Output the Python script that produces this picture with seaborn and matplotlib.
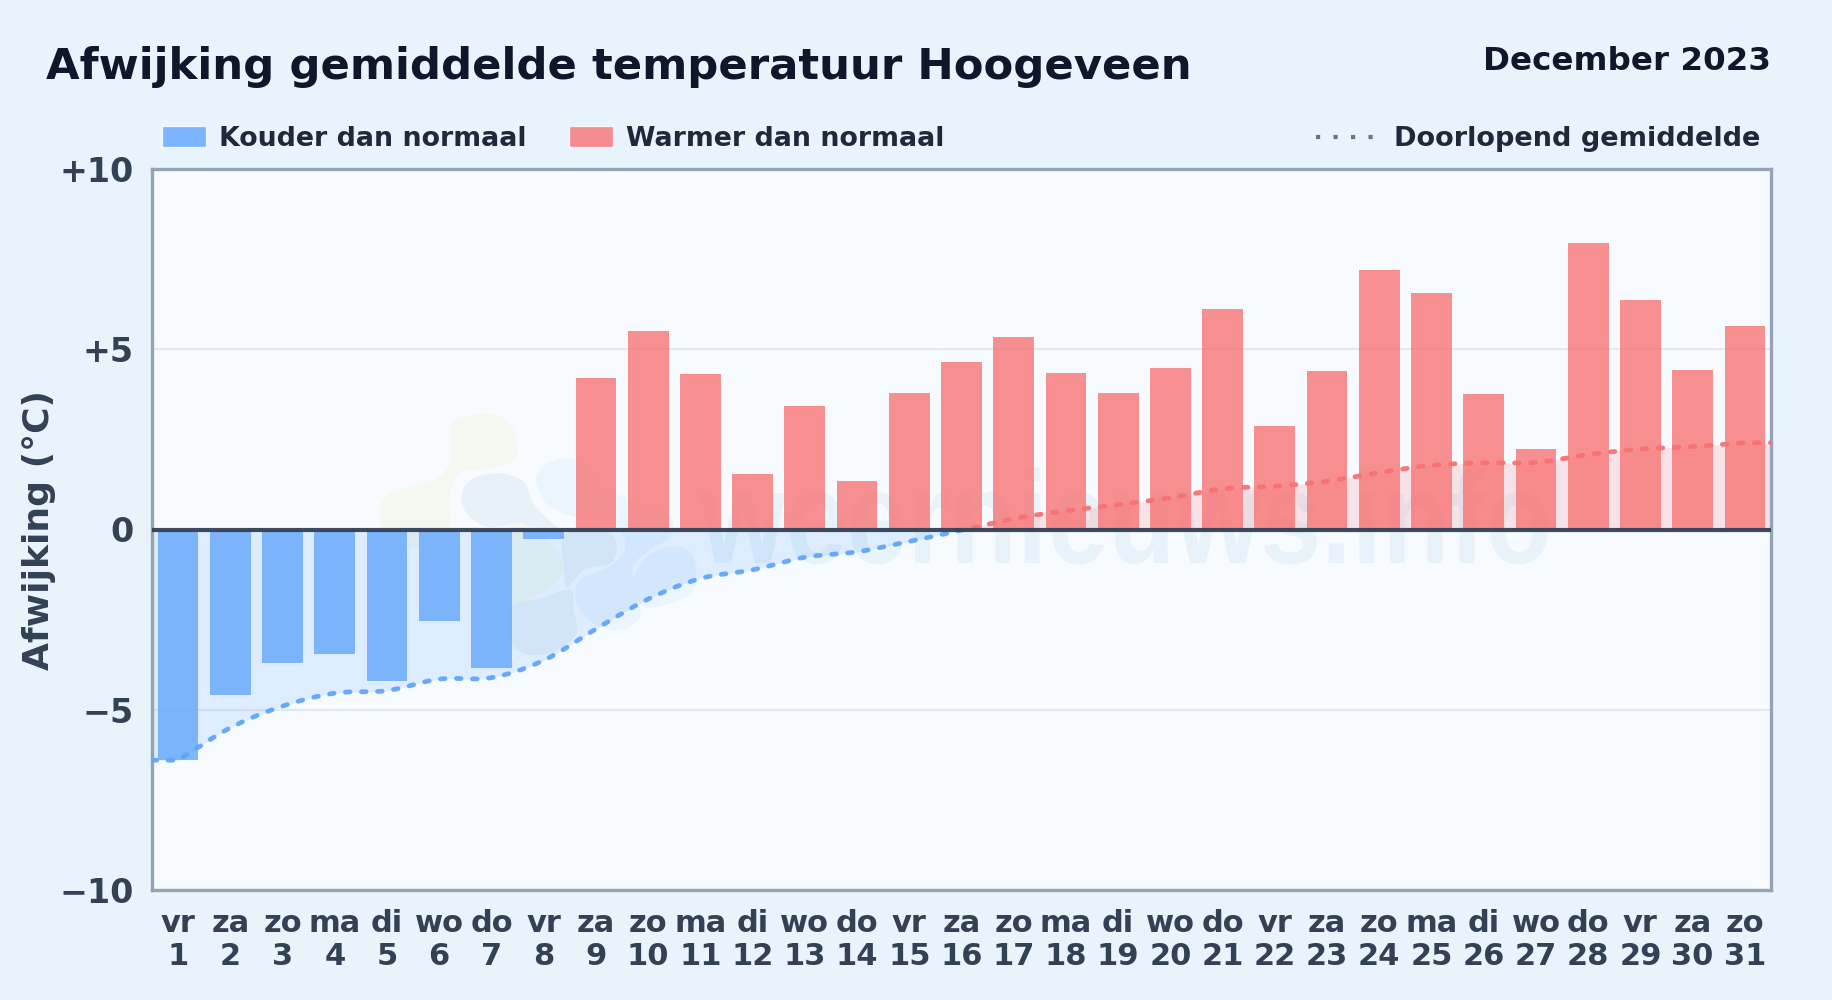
import numpy as np
import pandas as pd
import seaborn as sns
import matplotlib
matplotlib.use("Agg")
import matplotlib.pyplot as plt
from matplotlib.patches import Rectangle, Patch, PathPatch
from matplotlib.path import Path
from matplotlib.lines import Line2D
from matplotlib.transforms import Affine2D
from matplotlib.patheffects import AbstractPathEffect

days = ["vr","za","zo","ma","di","wo","do","vr","za","zo","ma","di","wo","do","vr","za","zo","ma","di","wo","do","vr","za","zo","ma","di","wo","do","vr","za","zo"]
dates = list(range(1, 32))
afwijking = [-6.4,-4.6,-3.7,-3.45,-4.2,-2.55,-3.85,-0.27,4.2,5.5,4.3,1.55,3.42,1.35,3.8,4.65,5.35,4.35,3.8,4.48,6.13,2.87,4.4,7.2,6.55,3.77,2.22,7.95,6.36,4.42,5.65]
gemiddelde = [-6.4,-5.5,-4.9,-4.54,-4.47,-4.15,-4.11,-3.63,-2.76,-1.93,-1.36,-1.12,-0.77,-0.62,-0.33,-0.02,0.3,0.52,0.69,0.88,1.13,1.2,1.34,1.58,1.78,1.85,1.86,2.08,2.23,2.3,2.41]
y_ticks = [-10,-5,0,5,10]
y_labels = ["\u221210","\u22125","0","+5","+10"]

BLUE = "#60a5fa"; RED = "#f87171"; INK = "#334155"; DARK = "#1e293b"
sns.set_theme(style="white")
plt.rcParams['font.family'] = ['DejaVu Sans']

fig = plt.figure(figsize=(18.32, 10), dpi=100, facecolor="#e8f3fc")
ax = fig.add_axes([152/1832, 1-890/1000, (1771-152)/1832, (890-169)/1000], facecolor="#f7fbff")

labels = [f"{d}\n{n}" for d, n in zip(days, dates)]
df = pd.DataFrame({"dag": labels, "waarde": afwijking,
                   "soort": ["koud" if v < 0 else "warm" for v in afwijking]})

class Narrow(AbstractPathEffect):
    # squeezes a text horizontally around a display x position
    def __init__(self, cx, sx):
        super().__init__()
        self.cx, self.sx = cx, sx
    def draw_path(self, renderer, gc, tpath, affine, rgbFace=None):
        squeeze = Affine2D().translate(-self.cx, 0).scale(self.sx, 1).translate(self.cx, 0)
        renderer.draw_path(gc, tpath, affine + squeeze, rgbFace)

# watermark
wm = ax.text(0.602, 0.4535, "weernieuws.info", transform=ax.transAxes, fontsize=95, color="#d5e6f6", alpha=0.42,
             ha="center", va="baseline", zorder=0.5, family="Liberation Sans", fontweight="bold")
wm.set_path_effects([Narrow(ax.transAxes.transform((0.602, 0))[0], 0.83)])

def blob(points, col):
    # closed smooth logo shape; outline given in crop pixels of the logo region
    p = np.array(points, float)
    p = np.column_stack([(360 + p[:, 0]/3)/1832, 1-(390 + p[:, 1]/3)/1000])
    n = len(p)
    verts = [p[0]]; codes = [Path.MOVETO]
    for i in range(n):
        p0, p1, p2, p3 = p[i-1], p[i], p[(i+1) % n], p[(i+2) % n]
        verts += [p1+(p2-p0)/6, p2-(p3-p1)/6, p2]
        codes += [Path.CURVE4]*3
    ax.add_patch(PathPatch(Path(verts, codes), transform=fig.transFigure, fc=col, ec="none", zorder=0.4))

GREEN = "#f3f9f1"; GREY = "#e8f1f8"; LIGHT = "#eaf5fe"
blob([(270,110),(320,78),(400,72),(455,110),(472,170),(455,215),(380,235),(300,250),(270,320),(270,400),(240,470),(150,470),(70,420),(60,360),(90,310),(200,280),(255,245),(270,190)], GREEN)
blob([(305,310),(340,265),(420,250),(490,275),(520,340),(570,395),(600,425),(480,405),(380,410),(320,370)], GREY)
blob([(530,260),(570,215),(640,205),(700,235),(730,300),(830,330),(930,380),(930,440),(870,480),(820,530),(830,620),(840,680),(780,720),(700,700),(650,640),(660,570),(740,535),(790,490),(790,440),(740,390),(640,380),(570,350),(540,310)], LIGHT)
blob([(450,405),(530,420),(600,500),(600,560),(540,610),(450,640),(400,500)], GREEN)
blob([(450,650),(540,625),(630,600),(640,660),(650,730),(590,780),(520,795),(460,770),(440,700)], GREY)
blob([(610,440),(680,410),(750,430),(770,470),(750,520),(680,535),(640,570),(620,590),(610,520)], GREY)
blob([(860,500),(940,470),(1000,500),(1000,600),(930,640),(850,650),(820,580)], LIGHT)

sns.barplot(data=df, x="dag", y="waarde", hue="soort", palette={"koud": BLUE, "warm": RED},
            dodge=False, width=0.78, alpha=0.78, legend=False, ax=ax, zorder=3, saturation=1,
            linewidth=0, edgecolor="none")
ax.set_xlim(-0.5, 30.5)
ax.set_ylim(-10, 10)

# smooth running-mean line (cubic between the read values, extended to both axis edges)
xs = np.arange(31, dtype=float)
ys = np.array(gemiddelde)
d = np.gradient(ys)
tt = []; yy = []
for i in range(30):
    t = np.linspace(0, 1, 24)
    h00 = 2*t**3-3*t**2+1; h10 = t**3-2*t**2+t; h01 = -2*t**3+3*t**2; h11 = t**3-t**2
    tt.append(xs[i]+t); yy.append(h00*ys[i]+h10*d[i]+h01*ys[i+1]+h11*d[i+1])
cx_ = np.concatenate([[-0.5], *tt, [30.5]])
cy_ = np.concatenate([[ys[0]], *yy, [ys[-1]]])

ax.fill_between(cx_, cy_, 0, where=cy_ <= 0, color=BLUE, alpha=0.17, lw=0, zorder=1, interpolate=True)
ax.fill_between(cx_, cy_, 0, where=cy_ >= 0, color=RED, alpha=0.17, lw=0, zorder=1, interpolate=True)

for col, y0, y1 in [(BLUE, -10, 0), (RED, 0, 10)]:
    ln, = ax.plot(cx_, cy_, color=col, lw=3.4, zorder=5, alpha=0.95,
                  dashes=(1.0, 2.4), dash_capstyle="round", dash_joinstyle="round")
    ln.set_clip_path(Rectangle((-0.5, y0), 31, y1-y0, transform=ax.transData))

ax.axhline(0, color="#334155", lw=3, zorder=6, alpha=0.95)
ax.set_yticks(y_ticks, y_labels)
ax.yaxis.grid(True, color="#e2e8f0", lw=1.6)
ax.set_axisbelow(True)
ax.tick_params(axis="y", labelsize=24, labelcolor=INK, length=0, pad=13)
ax.tick_params(axis="x", labelsize=22, labelcolor=INK, length=0, pad=14)
for t in ax.get_yticklabels() + ax.get_xticklabels():
    t.set_fontweight("bold")
for t in ax.get_xticklabels():
    t.set_linespacing(1.15)
ax.set_xlabel("")
ax.set_ylabel("Afwijking (\u00b0C)", fontsize=26, fontweight="bold", color=INK)
ax.yaxis.set_label_coords(-0.059, 0.5)
for s in ax.spines.values():
    s.set_color("#94a3b8"); s.set_linewidth(2.4); s.set_visible(True)

fig.text(46/1832, 1-67/1000, "Afwijking gemiddelde temperatuur Hoogeveen", fontsize=31.2, fontweight="bold",
         color="#0f172a", ha="left", va="center")
fig.text(1771/1832, 1-62/1000, "December 2023", fontsize=23.4, fontweight="bold", color="#0f172a", ha="right", va="center")

fig.legend(handles=[Patch(fc=BLUE, alpha=0.8, label="Kouder dan normaal"), Patch(fc=RED, alpha=0.8, label="Warmer dan normaal")],
           ncol=2, frameon=False, loc="center left", bbox_to_anchor=(162/1832, 1-139/1000), borderaxespad=0, borderpad=0,
           prop={"size": 19.3, "weight": "bold"}, labelcolor=DARK, handlelength=1.65, handleheight=0.85,
           columnspacing=1.58, handletextpad=0.48)
fig.legend(handles=[Line2D([], [], color="#64748b", lw=3, dashes=(1.0, 3.2), dash_capstyle="butt", label="Doorlopend gemiddelde")],
           frameon=False, loc="center right", bbox_to_anchor=(1760/1832, 1-139/1000), borderaxespad=0, borderpad=0,
           prop={"size": 19.5, "weight": "bold"}, labelcolor=DARK, handlelength=2.1, handletextpad=0.78)
fig.savefig("out.png", dpi=100, facecolor=fig.get_facecolor())
